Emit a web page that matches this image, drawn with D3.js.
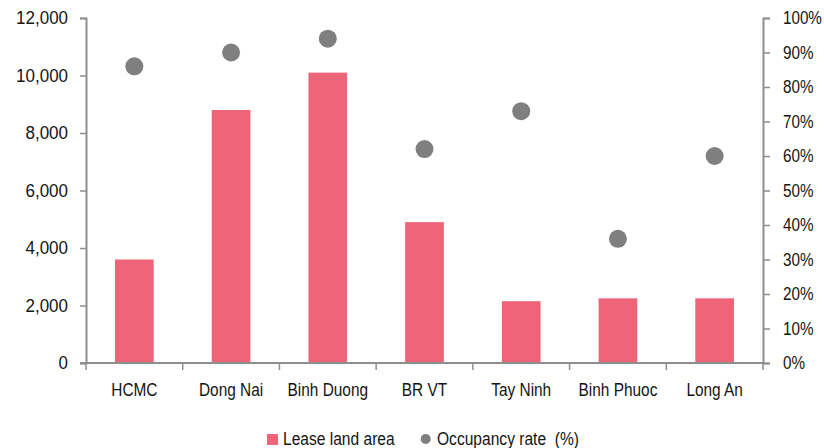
<!DOCTYPE html>
<html>
<head>
<meta charset="utf-8">
<script src="https://cdn.jsdelivr.net/npm/d3@7"></script>
<style>
  html, body { margin: 0; padding: 0; background: #fff; }
  svg { display: block; font-family: "Liberation Sans", Arial, sans-serif; }
  text { white-space: pre; }
</style>
</head>
<body>
<svg id="chart" width="824" height="448"></svg>
<script>
// Industrial park land by province
const categories = ["HCMC", "Dong Nai", "Binh Duong", "BR VT", "Tay Ninh", "Binh Phuoc", "Long An"];
const leaseLandArea = [3600, 8800, 10100, 4900, 2150, 2250, 2250];   // ha
const occupancyRate = [86, 90, 94, 62, 73, 36, 60];                  // %
const leftTicks = [0, 2000, 4000, 6000, 8000, 10000, 12000];
const rightTicks = [0, 10, 20, 30, 40, 50, 60, 70, 80, 90, 100];
const legendLabels = ["Lease land area", "Occupancy rate  (%)"];

const barColor = "#ee6579";
const dotColor = "#7f7f7f";
const axisColor = "#8e8e8e";
const textColor = "#141414";
const fontSize = 17.5;

const svg = d3.select("#chart");
const plotLeft = 86, plotRight = 763, plotTop = 18, plotBottom = 363;

const x = d3.scaleBand().domain(categories).range([plotLeft, plotRight]).paddingInner(0.6).paddingOuter(0.3);
const xCells = d3.scaleBand().domain(categories).range([plotLeft, plotRight]).padding(0);
const yL = d3.scaleLinear().domain([0, 12000]).range([plotBottom, plotTop]);
const yR = d3.scaleLinear().domain([0, 100]).range([plotBottom, plotTop]);

// narrow the typeface horizontally to a condensed look
function condense(sel, f) {
  sel.each(function () {
    const w = this.getComputedTextLength();
    this.setAttribute("textLength", (w * f).toFixed(1));
    this.setAttribute("lengthAdjust", "spacingAndGlyphs");
  });
}

// bars
svg.append("g").selectAll("rect").data(categories).join("rect")
  .attr("x", d => x(d))
  .attr("width", x.bandwidth())
  .attr("y", (d, i) => yL(leaseLandArea[i]))
  .attr("height", (d, i) => yL(0) - yL(leaseLandArea[i]))
  .attr("fill", barColor);

// occupancy dots
svg.append("g").selectAll("circle").data(categories).join("circle")
  .attr("cx", d => x(d) + x.bandwidth() / 2)
  .attr("cy", (d, i) => yR(occupancyRate[i]))
  .attr("r", 9)
  .attr("fill", dotColor);

function styleAxis(g) {
  g.selectAll(".domain").attr("stroke", axisColor).attr("stroke-width", 2);
  g.selectAll(".tick line").attr("stroke", axisColor).attr("stroke-width", 1.5);
  g.selectAll(".tick text").attr("fill", textColor).attr("font-size", fontSize)
    .attr("font-family", "'Liberation Sans', Arial, sans-serif");
}

// left axis
svg.append("g").attr("transform", `translate(${plotLeft},0)`)
  .call(d3.axisLeft(yL).tickValues(leftTicks).tickSize(6).tickSizeOuter(6).tickPadding(12).tickFormat(d3.format(",")))
  .call(styleAxis)
  .call(g => condense(g.selectAll(".tick text"), 0.97));

// right axis
svg.append("g").attr("transform", `translate(${plotRight},0)`)
  .call(d3.axisRight(yR).tickValues(rightTicks).tickSize(7).tickSizeOuter(7).tickPadding(13).tickFormat(d => d + "%"))
  .call(styleAxis)
  .call(g => condense(g.selectAll(".tick text"), 0.87));

// bottom axis: labels centred on categories, ticks on cell boundaries
const gx = svg.append("g").attr("transform", `translate(0,${plotBottom})`)
  .call(d3.axisBottom(x).tickSize(0).tickSizeOuter(0).tickPadding(21))
  .call(styleAxis)
  .call(g => condense(g.selectAll(".tick text"), 0.88));
gx.select(".domain").attr("d", `M${plotLeft - 6},0H${plotRight}`);
const bounds = categories.map(c => xCells(c)).concat([plotRight]);
gx.selectAll(".bound").data(bounds).join("line")
  .attr("class", "bound")
  .attr("x1", d => d).attr("x2", d => d)
  .attr("y1", 0).attr("y2", 7)
  .attr("stroke", axisColor).attr("stroke-width", 1.5);

// legend
const lg = svg.append("g").attr("font-size", fontSize).attr("fill", textColor);
lg.append("rect").attr("x", 267).attr("y", 434).attr("width", 11).attr("height", 11).attr("fill", barColor);
lg.append("text").attr("x", 283).attr("y", 445).text(legendLabels[0]);
lg.append("circle").attr("cx", 425.7).attr("cy", 439).attr("r", 5).attr("fill", dotColor);
lg.append("text").attr("x", 437).attr("y", 445).text(legendLabels[1]);
condense(lg.selectAll("text"), 0.89);
</script>
</body>
</html>
